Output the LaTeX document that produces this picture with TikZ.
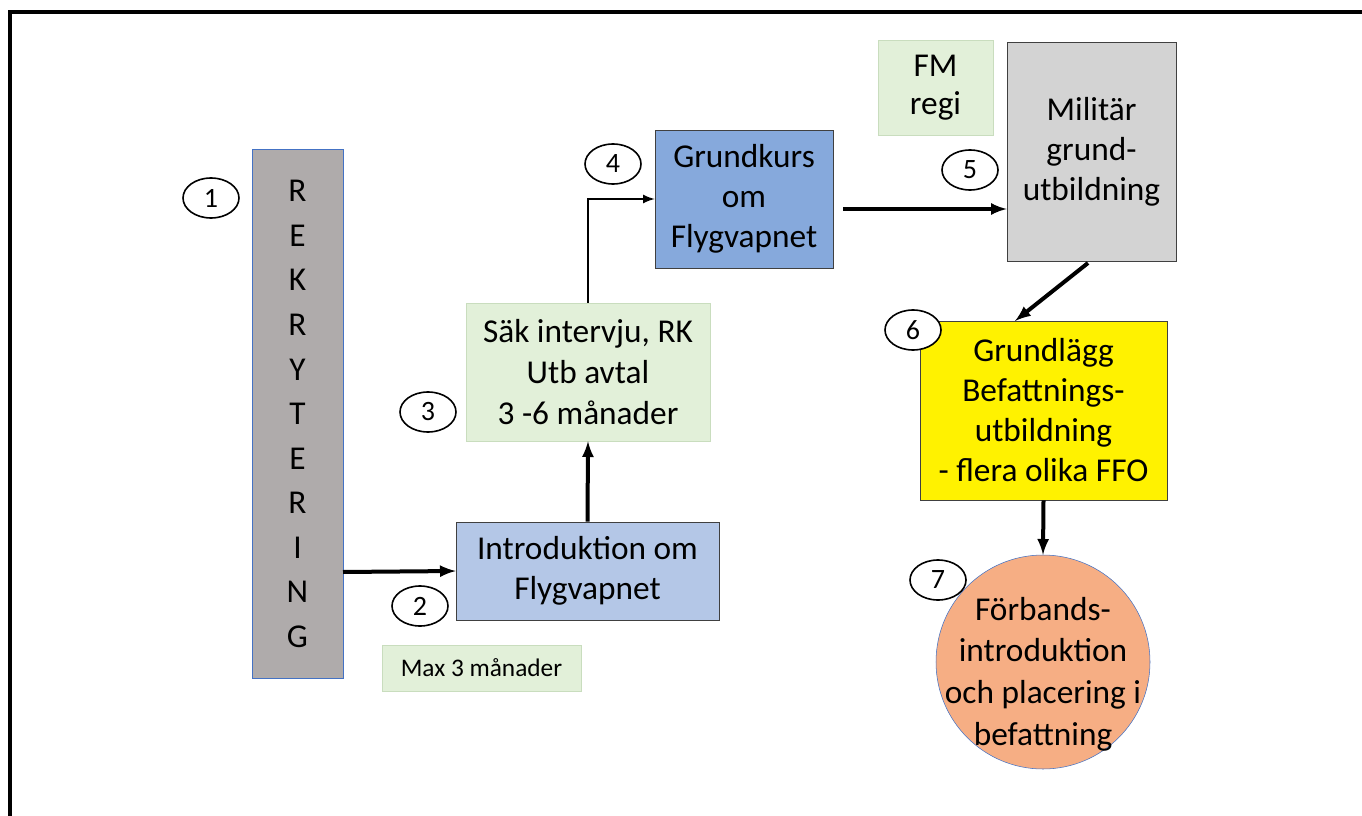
\documentclass[tikz,border=0pt]{standalone}
\usepackage{xcolor}
\usepackage{fontspec}
\setmainfont{Carlito}
\usepackage{tikz}
\usetikzlibrary{arrows,shapes}

\begin{document}
\begin{tikzpicture}[x=0.75pt,y=-0.75pt]
    \definecolor{myrekry}{HTML}{AFABAB}
    \definecolor{myedge}{HTML}{4472C4}
    \definecolor{mylightblue}{HTML}{B4C7E7}
    \definecolor{myblue}{HTML}{86A9DC}
    \definecolor{mygreen}{HTML}{E2F0D9}
    \definecolor{mygreenedge}{HTML}{C9DDBE}
    \definecolor{mygray}{HTML}{D3D3D3}
    \definecolor{myorange}{HTML}{F6AE84}

    \fontsize{25}{30}\selectfont  % Calibri-ähnliche Schrift
    \tikzstyle{format}=[rectangle,draw=black!75,thin,align=center,inner sep=0pt]  % Kästen
    \tikzstyle{note}=[rectangle,draw=mygreenedge,fill=mygreen,align=center,inner sep=0pt]  % grüne Notizen
    \tikzstyle{num}=[ellipse,draw,line width=1.2pt,minimum width=42pt,minimum height=30pt,inner sep=0pt,font=\fontsize{21}{22}\selectfont]  % Nummern
    \tikzstyle{arr}=[->,>=latex,line width=3pt]  % Pfeile

    \useasboundingbox (0,0) rectangle (1362,816);
    % Rahmen
    \draw[line width=2.5pt] (10,816) -- (10,12) -- (1362,12);

    % Knoten
    \node[format,draw=myedge,fill=myrekry,minimum width=68.25pt,minimum height=396.75pt,
          font=\fontsize{25}{33.4}\selectfont](rekry) at (297.5,414)
          {R\\E\\K\\R\\Y\\T\\E\\R\\I\\N\\G};
    \node[format,fill=mylightblue,minimum width=197.25pt,minimum height=73.5pt](intro) at (587.5,571)
          {Introduktion om\\Flygvapnet};
    \node[note,minimum width=149.25pt,minimum height=34.5pt,font=\fontsize{19}{20}\selectfont](max) at (481.5,668)
          {Max 3 månader};
    \node[note,minimum width=183pt,minimum height=103.5pt,font=\fontsize{25}{31}\selectfont](sak) at (588,372)
          {Säk intervju, RK\\Utb avtal\\3 -6 månader};
    \node[format,fill=myblue,minimum width=133.5pt,minimum height=103.5pt](grund) at (744,199)
          {Grundkurs\\om\\Flygvapnet};
    \node[note,minimum width=86.25pt,minimum height=71.25pt,font=\fontsize{25}{28.5}\selectfont](fm) at (935.5,87.5)
          {FM\\regi};
    \node[format,fill=mygray,minimum width=126.75pt,minimum height=164.25pt](mil) at (1091.5,151.5)
          {Militär\\grund-\\utbildning};
    \node[format,fill=yellow,minimum width=185.25pt,minimum height=134.25pt](befatt) at (1043.5,410.5)
          {Grundlägg\\Befattnings-\\utbildning\\- flera olika FFO};
    \node[circle,draw=myedge,fill=myorange,minimum size=160.5pt,inner sep=0pt](forb) at (1043,662) {};
    \node[align=center,font=\fontsize{25}{31.3}\selectfont](forbtext) at (1043,674)
          {Förbands-\\introduktion\\och placering i\\befattning};

    % Nummern
    \node[num](n1) at (211,198) {1};
    \node[num](n2) at (420,606) {2};
    \node[num](n3) at (428,412) {3};
    \node[num](n4) at (613,164) {4};
    \node[num](n5) at (970,170) {5};
    \node[num,fill=white](n6) at (913,330) {6};
    \node[num,fill=white](n7) at (938,580) {7};

    % Pfeile
    \coordinate (a2) at (343,572);
    \draw[arr](a2) -- (intro.west);
    \draw[arr](intro.north) -- (sak.south);
    \draw[->,>=latex,line width=2pt](sak.north) |- (grund.west);
    \coordinate (a5) at (843,209);
    \draw[arr](a5) -- (a5 -| mil.west);
    \coordinate (a6s) at (1088,263);
    \coordinate (a6e) at (1015,321);
    \draw[arr](a6s) -- (a6e);
    \draw[arr](befatt.south) -- (forb.north);
\end{tikzpicture}
\end{document}
